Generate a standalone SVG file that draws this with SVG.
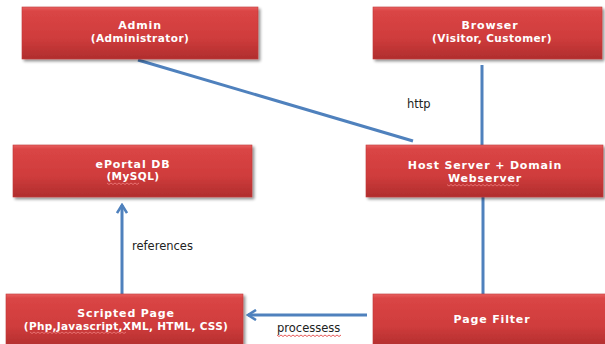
<svg xmlns="http://www.w3.org/2000/svg" width="605" height="344" viewBox="0 0 605 344">
  <defs>
    <linearGradient id="boxFill" x1="0" y1="0" x2="0" y2="1">
      <stop offset="0" stop-color="#e86060"/>
      <stop offset="0.08" stop-color="#da4545"/>
      <stop offset="0.6" stop-color="#cf3c3c"/>
      <stop offset="1" stop-color="#b02d2d"/>
    </linearGradient>
    <filter id="shadow" x="-5%" y="-10%" width="112%" height="130%">
      <feGaussianBlur in="SourceAlpha" stdDeviation="1.6"/>
      <feOffset dx="1.5" dy="2" result="b"/>
      <feComponentTransfer><feFuncA type="linear" slope="0.45"/></feComponentTransfer>
      <feMerge><feMergeNode/><feMergeNode in="SourceGraphic"/></feMerge>
    </filter>
    <!-- open chevron arrowhead pointing along the line -->
    <marker id="chev" viewBox="0 0 12 12" refX="10" refY="6" markerWidth="12" markerHeight="12" markerUnits="userSpaceOnUse" orient="auto">
      <path d="M2,1 L10,6 L2,11" fill="none" stroke="#4f81bd" stroke-width="2.6" stroke-linejoin="miter"/>
    </marker>
  </defs>
  <style>
    .box { fill: url(#boxFill); stroke: #c23a3a; stroke-width: 0.6; filter: url(#shadow); }
    .t { font-family: "DejaVu Sans", Verdana, sans-serif; font-weight: bold; fill: #ffffff; text-anchor: middle; }
    .t1 { font-size: 11px; letter-spacing: 0.85px; }
    .t2 { font-size: 10.5px; letter-spacing: 0.45px; }
    .t3 { font-size: 10.5px; letter-spacing: 0.3px; }
    .lbl { font-family: "DejaVu Sans", Verdana, sans-serif; font-size: 11.5px; fill: #222222; }
    .wire { stroke: #4f81bd; stroke-width: 3; fill: none; }
    .squig { stroke: #e03030; stroke-width: 0.8; fill: none; }
    .squigw { stroke: #f08080; stroke-width: 0.8; fill: none; }
  </style>

  <rect width="605" height="344" fill="#ffffff"/>

  <!-- connectors -->
  <g id="connectors">
    <line class="wire" x1="138" y1="60" x2="413" y2="141"/>
    <line class="wire" x1="482" y1="65" x2="482" y2="145"/>
    <line class="wire" x1="483" y1="197" x2="483" y2="294"/>
    <line class="wire" x1="367" y1="315" x2="248" y2="315" marker-end="url(#chev)"/>
    <line class="wire" x1="122" y1="294" x2="122" y2="205" marker-end="url(#chev)"/>
    <text class="lbl" x="407" y="108">http</text>
    <text class="lbl" x="132" y="250">references</text>
    <text class="lbl" x="277" y="332">processess</text>
    <path class="squig" d="M277,335 l2,1.5 l2,-1.5 l2,1.5 l2,-1.5 l2,1.5 l2,-1.5 l2,1.5 l2,-1.5 l2,1.5 l2,-1.5 l2,1.5 l2,-1.5 l2,1.5 l2,-1.5 l2,1.5 l2,-1.5 l2,1.5 l2,-1.5 l2,1.5 l2,-1.5 l2,1.5 l2,-1.5 l2,1.5 l2,-1.5 l2,1.5 l2,-1.5 l2,1.5 l2,-1.5 l2,1.5 l2,-1.5 l2,1.5 l2,-1.5"/>
  </g>

  <!-- nodes -->
  <g id="admin">
    <rect class="box" x="22" y="7" width="236" height="52"/>
    <text class="t t1" x="140" y="29">Admin</text>
    <text class="t t2" x="140" y="41.5">(Administrator)</text>
  </g>

  <g id="browser">
    <rect class="box" x="373" y="7" width="229" height="52"/>
    <text class="t t1" x="490" y="29">Browser</text>
    <text class="t t2" x="492" y="41.5">(Visitor, Customer)</text>
  </g>

  <g id="eportal-db">
    <rect class="box" x="13" y="145" width="239" height="52"/>
    <text class="t t1" x="133" y="167.5">ePortal DB</text>
    <text class="t t2" x="133" y="180">(MySQL)</text>
    <path class="squigw" d="M107,183 l2,1.5 l2,-1.5 l2,1.5 l2,-1.5 l2,1.5 l2,-1.5 l2,1.5 l2,-1.5 l2,1.5 l2,-1.5 l2,1.5 l2,-1.5 l2,1.5 l2,-1.5 l2,1.5 l2,-1.5"/>
  </g>

  <g id="host-server">
    <rect class="box" x="366" y="145" width="237" height="52"/>
    <text class="t t1" x="485" y="168.5">Host Server + Domain</text>
    <text class="t t1" x="485" y="181.5">Webserver</text>
    <path class="squigw" d="M447,184.5 l2,1.5 l2,-1.5 l2,1.5 l2,-1.5 l2,1.5 l2,-1.5 l2,1.5 l2,-1.5 l2,1.5 l2,-1.5 l2,1.5 l2,-1.5 l2,1.5 l2,-1.5 l2,1.5 l2,-1.5 l2,1.5 l2,-1.5 l2,1.5 l2,-1.5 l2,1.5 l2,-1.5 l2,1.5 l2,-1.5 l2,1.5 l2,-1.5 l2,1.5 l2,-1.5 l2,1.5 l2,-1.5 l2,1.5 l2,-1.5 l2,1.5 l2,-1.5 l2,1.5 l2,-1.5"/>
  </g>

  <g id="scripted-page">
    <rect class="box" x="6" y="294" width="237" height="54"/>
    <text class="t t1" x="126" y="317">Scripted Page</text>
    <text class="t t3" x="126" y="330">(Php,Javascript,XML, HTML, CSS)</text>
    <path class="squigw" d="M30,332 l2,1.5 l2,-1.5 l2,1.5 l2,-1.5 l2,1.5 l2,-1.5 l2,1.5 l2,-1.5 l2,1.5 l2,-1.5 l2,1.5 l2,-1.5 l2,1.5 l2,-1.5 l2,1.5 l2,-1.5 l2,1.5 l2,-1.5 l2,1.5 l2,-1.5 l2,1.5 l2,-1.5 l2,1.5 l2,-1.5 l2,1.5 l2,-1.5 l2,1.5 l2,-1.5 l2,1.5 l2,-1.5 l2,1.5 l2,-1.5 l2,1.5 l2,-1.5 l2,1.5 l2,-1.5 l2,1.5 l2,-1.5 l2,1.5 l2,-1.5 l2,1.5 l2,-1.5 l2,1.5 l2,-1.5 l2,1.5 l2,-1.5 l2,1.5 l2,-1.5"/>
  </g>

  <g id="page-filter">
    <rect class="box" x="373" y="294" width="238" height="54"/>
    <text class="t t1" x="492" y="323">Page Filter</text>
  </g>
</svg>
